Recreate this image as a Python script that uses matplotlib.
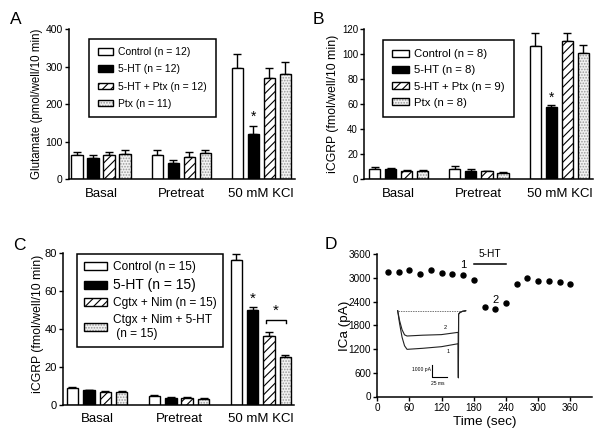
import numpy as np
import matplotlib
matplotlib.use('Agg')
import matplotlib.pyplot as plt
from matplotlib.patches import Patch
from matplotlib.legend_handler import HandlerTuple

plt.rcParams['font.family'] = ['Liberation Sans', 'DejaVu Sans']
plt.rcParams['hatch.linewidth'] = 0.8

# ---- data ----
groups = ['Basal', 'Pretreat', '50 mM KCl']

# panel A: glutamate (rows = groups, cols = series)
a_labels = ['Control (n = 12)', '5-HT (n = 12)', '5-HT + Ptx (n = 12)', 'Ptx (n = 11)']
a_means = [[64, 56, 64, 67], [66, 44, 59, 70], [296, 122, 271, 280]]
a_errs = [[10, 8, 10, 11], [11, 7, 13, 9], [37, 21, 27, 34]]

# panel B: iCGRP
b_labels = ['Control (n = 8)', '5-HT (n = 8)', '5-HT + Ptx (n = 9)', 'Ptx (n = 8)']
b_means = [[8.5, 8.3, 7.0, 6.5], [8.5, 7.0, 6.3, 5.3], [106.5, 57.5, 110.9, 101]]
b_errs = [[1.5, 0.7, 0.7, 0.7], [2.0, 1.0, 0.6, 0.9], [10.3, 1.9, 6.1, 6.4]]

# panel C: iCGRP with channel blockers
c_labels = ['Control (n = 15)', '5-HT (n = 15)', 'Cgtx + Nim (n = 15)',
            'Ctgx + Nim + 5-HT\n (n = 15)']
c_means = [[8.8, 7.7, 7.0, 6.8], [4.9, 3.9, 3.9, 3.3], [76.2, 49.7, 36.4, 25.0]]
c_errs = [[0.4, 0.3, 0.4, 0.3], [0.5, 0.3, 0.3, 0.4], [3.0, 1.6, 1.7, 1.3]]

# panel D: ICa time course
d_time = [20, 40, 60, 80, 100, 120, 140, 160, 180, 200, 220, 240, 260, 280, 300, 320, 340, 360]
d_ica = [3145, 3153, 3204, 3102, 3204, 3136, 3094, 3085, 2957, 2260, 2209, 2362,
         2838, 2991, 2923, 2915, 2898, 2838]

# inset current traces (ms, pA)
trace1_t = [0, 3, 7, 11, 15, 40, 70, 97, 97.3, 97.6, 100, 104, 109]
trace1_i = [0, -1100, -2300, -3050, -3360, -3270, -3130, -2870, -5830, -300, -150, -50, 0]
trace2_t = [0, 3, 7, 11, 15, 40, 70, 97, 97.3, 97.6, 100, 104, 109]
trace2_i = [0, -850, -1650, -2100, -2200, -2130, -2080, -1880, -5830, -300, -150, -50, 0]

fig = plt.figure(figsize=(6, 4.42), dpi=100)


def px_axes(l, t, r, b):
    return fig.add_axes([l / 600, 1 - b / 442, (r - l) / 600, (b - t) / 442])


styles = [
    dict(color='white', hatch=None, dots=False),
    dict(color='black', hatch=None, dots=False),
    dict(color='white', hatch='////', dots=False),
    dict(color='white', hatch=None, dots=True),
]


def series_handle(st):
    if st['dots']:
        return (Patch(facecolor='#f2f2f2', edgecolor='#9a9a9a', hatch='......', lw=0),
                Patch(fill=False, edgecolor='black', lw=1))
    return Patch(facecolor=st['color'], edgecolor='black', hatch=st['hatch'], lw=1)


def bar_panel(ax, means, errs, width, tick_fs):
    means = np.array(means)
    errs = np.array(errs)
    ng, ns = means.shape
    for i in range(ns):
        xs = np.arange(ng) * 5 + i
        st = styles[i]
        if st['dots']:
            ax.bar(xs, means[:, i], width, color='#f2f2f2', edgecolor='#9a9a9a',
                   hatch='......', lw=0, zorder=2)
            ax.bar(xs, means[:, i], width, fill=False, edgecolor='black', lw=1, zorder=3)
        else:
            ax.bar(xs, means[:, i], width, color=st['color'], edgecolor='black',
                   hatch=st['hatch'], lw=1, zorder=2)
        ax.errorbar(xs, means[:, i], yerr=[np.zeros(ng), errs[:, i]], fmt='none',
                    ecolor='black', elinewidth=1, capsize=2.6, capthick=1, zorder=1)
    ax.set_xticks(np.arange(ng) * 5 + (ns - 1) / 2)
    ax.set_xticklabels(groups, fontsize=9.5)
    ax.tick_params(axis='x', length=0, pad=6)
    ax.tick_params(axis='y', labelsize=tick_fs, length=3, width=1, pad=1.5)
    for s in ['top', 'right']:
        ax.spines[s].set_visible(False)
    for s in ['left', 'bottom']:
        ax.spines[s].set_linewidth(1.1)


def add_legend(ax, labels, fs, x, y, **kw):
    leg = ax.legend([series_handle(s) for s in styles], labels, fontsize=fs,
                    loc='upper left', bbox_to_anchor=(x / 600, 1 - y / 442),
                    bbox_transform=fig.transFigure, borderaxespad=0, fancybox=False,
                    edgecolor='black', framealpha=1,
                    handler_map={tuple: HandlerTuple(ndivide=1, pad=0)}, **kw)
    leg.get_frame().set_linewidth(1.1)
    return leg


# ---- A ----
axA = px_axes(69, 29.3, 295, 179.3)
bar_panel(axA, a_means, a_errs, 0.69, 7.5)
axA.set_xlim(-0.5, 13.62)
axA.set_ylim(0, 400)
axA.set_yticks([0, 100, 200, 300, 400])
axA.set_ylabel('Glutamate (pmol/well/10 min)', fontsize=8.3, va='center')
axA.yaxis.set_label_coords(-0.1416, 0.5)
axA.text(11, 167, '*', ha='center', va='center', fontsize=10)
add_legend(axA, a_labels, 7.5, 89.3, 39, handlelength=1.5, handleheight=0.6,
           handletextpad=0.5, labelspacing=0.68, borderpad=0.8)

# ---- B ----
axB = px_axes(364.3, 29.3, 593, 179.3)
bar_panel(axB, b_means, b_errs, 0.69, 7)
axB.set_xlim(-0.635, 13.6)
axB.set_ylim(0, 120)
axB.set_yticks([0, 20, 40, 60, 80, 100, 120])
axB.set_ylabel('iCGRP (fmol/well/10 min)', fontsize=8.8, va='center')
axB.yaxis.set_label_coords(-0.137, 0.5)
axB.text(11, 65, '*', ha='center', va='center', fontsize=10)
add_legend(axB, b_labels, 8.2, 382.7, 40, handlelength=1.5, handleheight=0.55,
           handletextpad=0.45, labelspacing=0.55, borderpad=0.8)

# ---- C ----
axC = px_axes(63.3, 252.7, 294, 405)
bar_panel(axC, c_means, c_errs, 0.7, 8)
axC.set_xlim(-0.56, 13.52)
axC.set_ylim(0, 80)
axC.set_yticks([0, 20, 40, 60, 80])
axC.set_ylabel('iCGRP (fmol/well/10 min)', fontsize=8.8, va='center')
axC.yaxis.set_label_coords(-0.110, 0.532)
axC.text(11, 56, '*', ha='center', va='center', fontsize=11)
axC.plot([11.8, 11.8, 13.05, 13.05], [43, 44.6, 44.6, 43], color='black', lw=1)
axC.text(12.42, 49.5, '*', ha='center', va='center', fontsize=11)
legC = add_legend(axC, c_labels, 8.6, 76.7, 254.3, handlelength=1.9, handleheight=0.7,
                  handletextpad=0.5, labelspacing=0.4, borderpad=0.6)
legC.get_texts()[1].set_fontsize(10)

# ---- D ----
axD = px_axes(377.3, 254.3, 591.7, 396.5)
axD.plot(d_time, d_ica, 'o', color='black', ms=3.6, clip_on=False)
axD.set_xlim(0, 400)
axD.set_ylim(0, 3600)
axD.set_xticks([0, 60, 120, 180, 240, 300, 360])
axD.set_yticks([0, 600, 1200, 1800, 2400, 3000, 3600])
axD.tick_params(labelsize=7.2, length=3, width=1, pad=1.5)
for s in ['top', 'right']:
    axD.spines[s].set_visible(False)
for s in ['left', 'bottom']:
    axD.spines[s].set_linewidth(1.1)
axD.set_ylabel('ICa (pA)', fontsize=9.7, va='center')
axD.yaxis.set_label_coords(-0.151, 0.496)
axD.set_xlabel('Time (sec)', fontsize=9.7, va='center')
axD.xaxis.set_label_coords(0.501, -0.179)
axD.plot([180, 240], [3350, 3350], color='black', lw=1.1)
axD.text(209, 3620, '5-HT', ha='center', va='center', fontsize=7.3)
axD.text(161, 3340, '1', ha='center', va='center', fontsize=8)
axD.text(220, 2450, '2', ha='center', va='center', fontsize=8)

# inset traces
axI = px_axes(390, 305, 476, 385)
axI.set_xlim(-12.3, 125.5)
axI.set_ylim(-6461, 496)
axI.axis('off')
axI.plot([0, 109], [0, 0], ls=(0, (1.5, 1)), color='#777777', lw=0.7)
axI.plot(trace1_t, trace1_i, color='#222222', lw=0.8)
axI.plot(trace2_t, trace2_i, color='#222222', lw=0.8)
axI.plot([54.5, 54.5, 79.5], [-4722, -5739, -5739], color='black', lw=0.8)
axI.text(53, -5100, '1000 pA', ha='right', va='center', fontsize=3.6)
axI.text(65, -6350, '25 ms', ha='center', va='center', fontsize=3.6)
axI.text(75.8, -1445, '2', ha='center', va='center', fontsize=4)
axI.text(81, -3520, '1', ha='center', va='center', fontsize=4)

# panel letters
for lbl, x, y in [('A', 16, 20), ('B', 318, 20), ('C', 19, 245), ('D', 331, 244)]:
    fig.text(x / 600, 1 - y / 442, lbl, ha='center', va='center', fontsize=12.5)

fig.savefig('out.png', dpi=100)
